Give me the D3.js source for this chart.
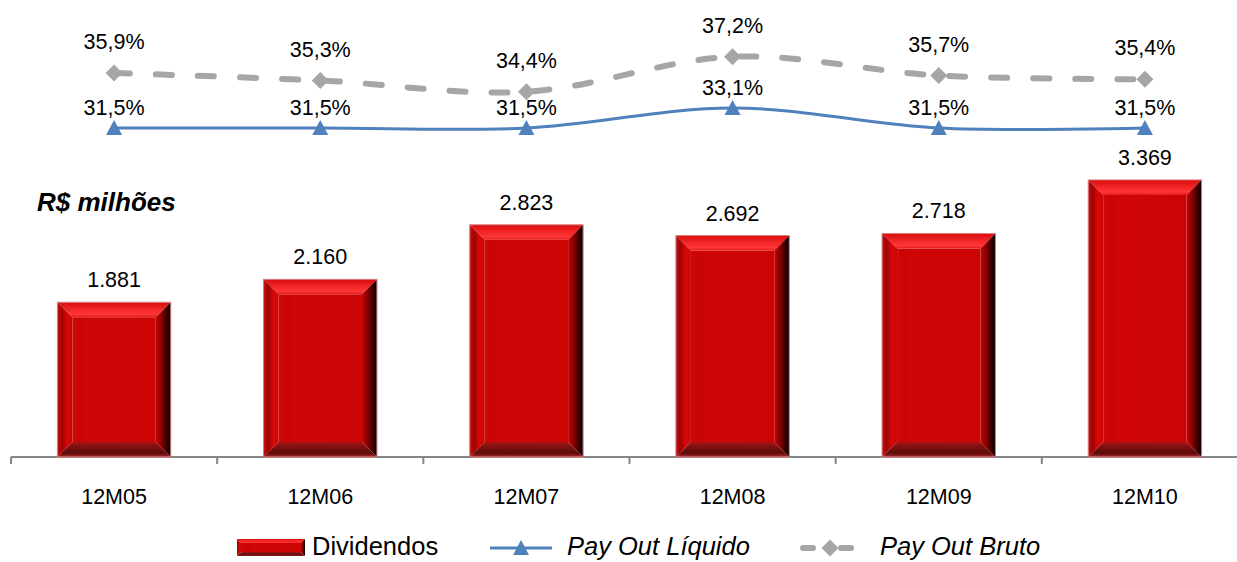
<!DOCTYPE html>
<html>
<head>
<meta charset="utf-8">
<script src="https://cdn.jsdelivr.net/npm/d3@7/dist/d3.min.js"></script>
<style>
  body { margin: 0; background: #fff; }
  text { font-family: "Liberation Sans", Arial, sans-serif; fill: #000; }
</style>
</head>
<body>
<div id="chart"></div>
<script>
// data
var categories = ['12M05', '12M06', '12M07', '12M08', '12M09', '12M10'];
var dividendos = [1881, 2160, 2823, 2692, 2718, 3369];
var payout_liquido = [31.5, 31.5, 31.5, 33.1, 31.5, 31.5];
var payout_bruto = [35.9, 35.3, 34.4, 37.2, 35.7, 35.4];

var width = 1237, height = 562;
var base_y = 457;
var bevel = 15;

var svg = d3.select('#chart').append('svg')
    .attr('width', width).attr('height', height);

var defs = svg.append('defs');

// gradients for the bevelled bars
function grad(id, horiz, stops) {
    var g = defs.append('linearGradient').attr('id', id)
        .attr('x1', 0).attr('y1', 0)
        .attr('x2', horiz ? 1 : 0).attr('y2', horiz ? 0 : 1);
    stops.forEach(function(s) {
        g.append('stop').attr('offset', s[0]).attr('stop-color', s[1]);
    });
}
grad('g_top', false, [[0, '#d80c0c'], [0.55, '#f52a2a'], [0.8, '#ff3636'], [1, '#e41a1a']]);
grad('g_left', true, [[0, '#c01212'], [0.3, '#a00202'], [0.65, '#d80808'], [1, '#cc0404']]);
grad('g_right', true, [[0, '#c40404'], [0.45, '#7a0000'], [0.8, '#2a0000'], [1, '#080000']]);
grad('g_bottom', false, [[0, '#a81414'], [0.35, '#7c1010'], [0.75, '#5c0c0c'], [0.9, '#901c1c'], [1, '#d03838']]);
grad('g_face', true, [[0, '#d00808'], [0.1, '#c80404'], [0.2, '#d00606'], [1, '#cc0404']]);

// scales
var x = d3.scaleBand().domain(categories)
    .range([11, 1248]).paddingInner(0.45).paddingOuter(0.225);
var y = d3.scaleLinear().domain([0, 4000]).range([base_y, base_y - 329]);
var yp = d3.scaleLinear().domain([25, 40]).range([209.25, 21.75]);

// x axis
var axis = svg.append('g').attr('transform', 'translate(0,' + base_y + ')')
    .call(d3.axisBottom(x).tickSize(0).tickFormat(''));
axis.select('.domain').attr('stroke', '#868686').attr('stroke-width', 2)
    .attr('d', 'M11,0H1248');
var step = x.step();
axis.selectAll('.sep').data(d3.range(categories.length + 1)).enter().append('line')
    .attr('x1', function(i) { return 11 + i * step; })
    .attr('x2', function(i) { return 11 + i * step; })
    .attr('y1', 0).attr('y2', 7)
    .attr('stroke', '#868686').attr('stroke-width', 2);

svg.selectAll('.cat').data(categories).enter().append('text')
    .attr('x', function(d) { return x(d) + x.bandwidth() / 2; })
    .attr('y', 504).attr('text-anchor', 'middle')
    .attr('font-size', '21.5px')
    .text(function(d) { return d; });

// bars
function bar_parts(x0, x1, y0, y1, b) {
    var pts = function(a) { return a.map(function(p) { return p.join(','); }).join(' '); };
    return [
        ['g_face', pts([[x0 + b, y0 + b], [x1 - b, y0 + b], [x1 - b, y1 - b], [x0 + b, y1 - b]])],
        ['g_top', pts([[x0, y0], [x1, y0], [x1 - b, y0 + b], [x0 + b, y0 + b]])],
        ['g_left', pts([[x0, y0], [x0 + b, y0 + b], [x0 + b, y1 - b], [x0, y1]])],
        ['g_right', pts([[x1, y0], [x1, y1], [x1 - b, y1 - b], [x1 - b, y0 + b]])],
        ['g_bottom', pts([[x0, y1], [x0 + b, y1 - b], [x1 - b, y1 - b], [x1, y1]])]
    ];
}

var bars = svg.selectAll('.bar').data(dividendos).enter().append('g');
bars.each(function(d, i) {
    var g = d3.select(this);
    var x0 = x(categories[i]), x1 = x0 + x.bandwidth();
    bar_parts(x0, x1, y(d), y(0), bevel).forEach(function(p) {
        g.append('polygon').attr('points', p[1]).attr('fill', 'url(#' + p[0] + ')');
    });
    g.append('rect').attr('x', x0).attr('y', y(d))
        .attr('width', x.bandwidth()).attr('height', y(0) - y(d))
        .attr('fill', 'none').attr('stroke', '#d88080').attr('stroke-width', 1);
});

svg.selectAll('.barlab').data(dividendos).enter().append('text')
    .attr('x', function(d, i) { return x(categories[i]) + x.bandwidth() / 2; })
    .attr('y', function(d) { return y(d) - 15; })
    .attr('text-anchor', 'middle').attr('font-size', '21.5px')
    .text(function(d) { return d3.format(',')(d).replace(/,/g, '.'); });

svg.append('text').attr('x', 37).attr('y', 211)
    .attr('font-size', '26px').attr('font-weight', 'bold').attr('font-style', 'italic')
    .text('R$ milhões');

// lines
var cx = function(d, i) { return x(categories[i]) + x.bandwidth() / 2; };
var line = d3.line().x(cx).y(function(d) { return yp(d); })
    .curve(d3.curveCardinal.tension(0));

svg.append('path').datum(payout_bruto).attr('d', line)
    .attr('fill', 'none').attr('stroke', '#a6a6a6').attr('stroke-width', 6)
    .attr('stroke-dasharray', '16 26').attr('stroke-linecap', 'round');

svg.append('path').datum(payout_liquido).attr('d', line)
    .attr('fill', 'none').attr('stroke', '#4f81bd').attr('stroke-width', 3);

var diamond = 'M0,-8.5L8.5,0L0,8.5L-8.5,0Z';
var triangle = 'M0,-8L8,7L-8,7Z';

svg.selectAll('.dia').data(payout_bruto).enter().append('path')
    .attr('d', diamond).attr('fill', '#a6a6a6')
    .attr('transform', function(d, i) { return 'translate(' + cx(d, i) + ',' + yp(d) + ')'; });
svg.selectAll('.tri').data(payout_liquido).enter().append('path')
    .attr('d', triangle).attr('fill', '#4f81bd')
    .attr('transform', function(d, i) { return 'translate(' + cx(d, i) + ',' + yp(d) + ')'; });

var pct = function(d) { return d.toFixed(1).replace('.', ',') + '%'; };
svg.selectAll('.lb').data(payout_bruto).enter().append('text')
    .attr('x', cx).attr('y', function(d) { return yp(d) - 24; })
    .attr('text-anchor', 'middle').attr('font-size', '21.5px').text(pct);
svg.selectAll('.ll').data(payout_liquido).enter().append('text')
    .attr('x', cx).attr('y', function(d) { return yp(d) - 13; })
    .attr('text-anchor', 'middle').attr('font-size', '21.5px').text(pct);

// legend
var leg = svg.append('g');
bar_parts(237, 305, 539, 556, 4).forEach(function(p) {
    leg.append('polygon').attr('points', p[1]).attr('fill', 'url(#' + p[0] + ')');
});
leg.append('text').attr('x', 312).attr('y', 555).attr('font-size', '25.5px').text('Dividendos');

leg.append('line').attr('x1', 490).attr('x2', 552).attr('y1', 548).attr('y2', 548)
    .attr('stroke', '#4f81bd').attr('stroke-width', 3);
leg.append('path').attr('d', triangle).attr('fill', '#4f81bd')
    .attr('transform', 'translate(521,548)');
leg.append('text').attr('x', 567).attr('y', 555).attr('font-size', '25.5px')
    .attr('font-style', 'italic').text('Pay Out Líquido');

leg.append('line').attr('x1', 803).attr('x2', 857).attr('y1', 548).attr('y2', 548)
    .attr('stroke', '#a6a6a6').attr('stroke-width', 6)
    .attr('stroke-dasharray', '10 28').attr('stroke-linecap', 'round');
leg.append('path').attr('d', diamond).attr('fill', '#a6a6a6')
    .attr('transform', 'translate(830,548)');
leg.append('text').attr('x', 880).attr('y', 555).attr('font-size', '25.5px')
    .attr('font-style', 'italic').text('Pay Out Bruto');
</script>
</body>
</html>
